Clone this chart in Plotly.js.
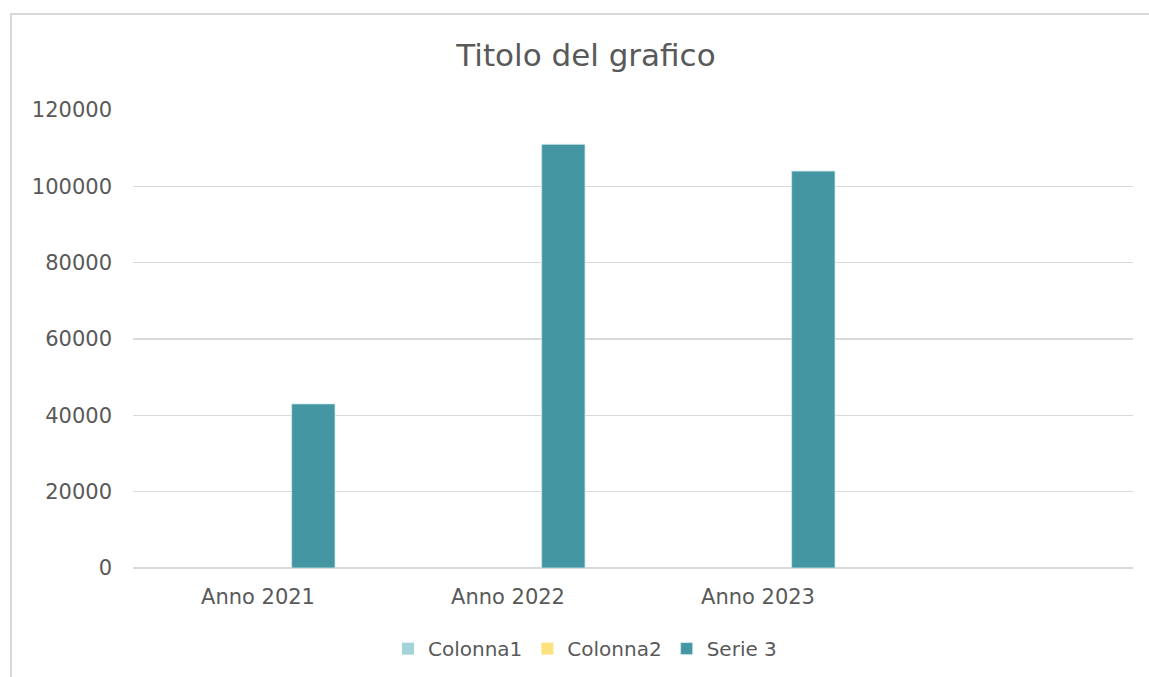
<!DOCTYPE html>
<html>
<head>
<meta charset="utf-8">
<script src="https://cdn.plot.ly/plotly-3.0.1.min.js"></script>
<style>
  html, body { margin: 0; padding: 0; background: #ffffff; overflow: hidden; width: 1149px; height: 677px; }
  #frame { position: absolute; left: 10px; top: 13px; width: 1170px; height: 700px; border: 2px solid #D9D9D9; box-sizing: border-box; }
  #chart { position: absolute; left: 0; top: 0; width: 1149px; height: 677px; }
</style>
</head>
<body>
<div id="frame"></div>
<div id="chart"></div>
<script>
var categories = ["Anno 2021", "Anno 2022", "Anno 2023"];
var colonna1 = [null, null, null];
var colonna2 = [null, null, null];
var serie3 = [43000, 111000, 104000];
var yTicks = [0, 20000, 40000, 60000, 80000, 100000, 120000];

var fontFam = "DejaVu Sans, Liberation Sans, sans-serif";
var textColor = "#595959";

var traces = [
  { type: "bar", name: "Colonna1", x: categories, y: colonna1, marker: { color: "#A5D3DA" } },
  { type: "bar", name: "Colonna2", x: categories, y: colonna2, marker: { color: "#FCE17F" } },
  { type: "bar", name: "Serie 3", x: categories, y: serie3,
    marker: { color: "#4396A2", line: { color: "#CFE7EB", width: 0.8 } } }
];

var layout = {
  width: 1149, height: 677,
  margin: { l: 133, r: 16, t: 110, b: 109, autoexpand: false },
  paper_bgcolor: "rgba(0,0,0,0)",
  plot_bgcolor: "rgba(0,0,0,0)",
  font: { family: fontFam, color: textColor, size: 20 },
  title: { text: "Titolo del grafico", font: { family: fontFam, size: 31, color: textColor },
           x: 0.51, xanchor: "center", y: 0.918, yanchor: "middle" },
  barmode: "group",
  bargap: 0.336,
  bargroupgap: 0.217,
  showlegend: true,
  legend: { orientation: "h", x: 0.452, xanchor: "center", y: -0.176, yanchor: "middle",
            font: { family: fontFam, size: 20, color: textColor }, itemwidth: 30, traceorder: "normal" },
  xaxis: {
    type: "category",
    categoryorder: "array", categoryarray: categories,
    range: [-0.5, 3.5],
    showgrid: false, zeroline: false, showline: false,
    ticks: "", ticklabelstandoff: 14,
    tickfont: { family: fontFam, size: 21, color: textColor },
    fixedrange: true
  },
  yaxis: {
    range: [0, 120000],
    tickvals: yTicks,
    ticktext: yTicks.map(String),
    showgrid: true, gridcolor: "#D9D9D9", gridwidth: 1.5,
    zeroline: true, zerolinecolor: "#D9D9D9", zerolinewidth: 1.5,
    showline: false, ticks: "", ticklabelstandoff: 20,
    tickfont: { family: fontFam, size: 21, color: textColor },
    fixedrange: true
  }
};

Plotly.newPlot("chart", traces, layout, { displayModeBar: false, staticPlot: true });
</script>
</body>
</html>
